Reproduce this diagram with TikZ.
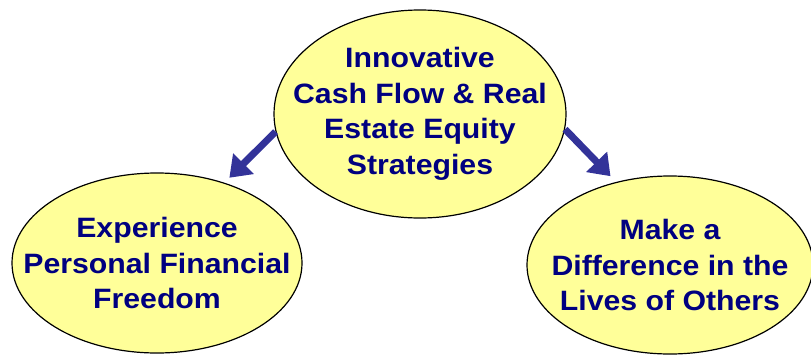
\documentclass[tikz,border=0pt]{standalone}
\usepackage{fontspec}
\setmainfont{Liberation Sans}[BoldFeatures={FakeStretch=1.08}]
\usepackage{xcolor}
\usepackage{tikz}
\usetikzlibrary{shapes,arrows.meta,positioning}

\definecolor{goalfill}{HTML}{FFFF99}
\definecolor{goaltext}{HTML}{000080}
\definecolor{arrowblue}{HTML}{333399}

\begin{document}
\begin{tikzpicture}[
    x=1pt, y=-1pt,
    goal/.style={ellipse, draw=black, line width=1.2pt, fill=goalfill, inner sep=0pt},
    goallabel/.style={text=goaltext, align=center, font=\fontsize{28}{35.5}\selectfont\bfseries},
    arrow/.style={-{Triangle[length=20pt,width=28pt]}, line width=7pt, draw=arrowblue},
]
\useasboundingbox (0,0) rectangle (811,356);

% Top: main strategy
\node[goal, minimum width=292pt, minimum height=208pt,
      label={[goallabel]center:Innovative\\Cash Flow \& Real\\Estate Equity\\Strategies}] (strategy) at (420,114) {};

% Bottom: the two outcomes
\node[goal, minimum width=290pt, minimum height=180pt,
      label={[goallabel]center:Experience\\Personal Financial\\Freedom}] (freedom) at (157,263) {};
\node[goal, minimum width=286pt, minimum height=178pt,
      label={[goallabel]center:Make a\\Difference in the\\Lives of Others}] (others) at (670,265) {};

% Arrows - strategy to outcomes
\draw[arrow, shorten >=7pt] (strategy.187) -- (freedom.50);
\draw[arrow, shorten >=8pt] (strategy.354) -- (others.123);

\end{tikzpicture}
\end{document}
